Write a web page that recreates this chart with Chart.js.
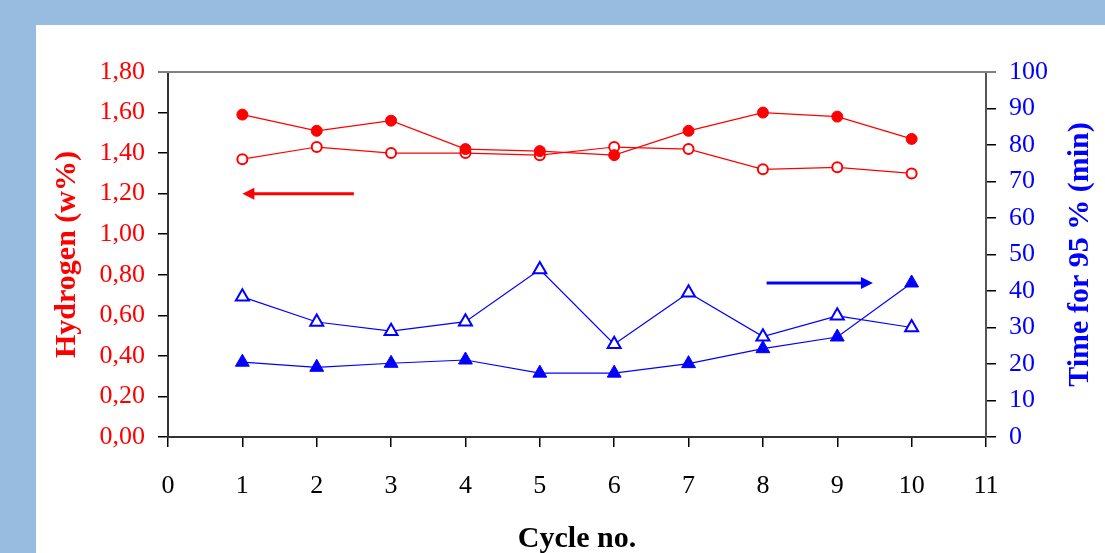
<!DOCTYPE html>
<html>
<head>
<meta charset="utf-8">
<script src="https://cdn.jsdelivr.net/npm/chart.js@4"></script>
<style>
  html, body { margin: 0; padding: 0; }
  body { width: 1105px; height: 553px; background: #98bce0; position: relative; overflow: hidden; }
  #panel { position: absolute; left: 36px; top: 25px; width: 1069px; height: 528px; background: #fff; }
  #chart { position: absolute; left: 0; top: 0; }
</style>
</head>
<body>
<div id="panel"></div>
<canvas id="chart" width="1105" height="553"></canvas>
<script>

// cycle numbers
const cycles = [1, 2, 3, 4, 5, 6, 7, 8, 9, 10];

// hydrogen content (w%), left axis
const h2Filled = [1.59, 1.51, 1.56, 1.42, 1.41, 1.39, 1.51, 1.60, 1.58, 1.47];
const h2Open   = [1.37, 1.43, 1.40, 1.40, 1.39, 1.43, 1.42, 1.32, 1.33, 1.30];

// time for 95 % (min), right axis
const timeOpen   = [38.4, 31.5, 29.0, 31.6, 45.9, 25.4, 39.5, 27.5, 33.2, 30.0];
const timeFilled = [20.5, 19.1, 20.2, 21.1, 17.5, 17.5, 20.1, 24.2, 27.4, 42.2];

// arrows: [from x, to x, y]
const arrowH2   = [2.5, 1.0, 1.20];
const arrowTime = [8.05, 9.48, 42.2];

const RED = "#ff0000";
const BLUE = "#0000ff";
const FONT = "'Liberation Serif', 'Times New Roman', serif";

function pts(ys) {
    return cycles.map((c, i) => ({ x: c, y: ys[i] }));
}

const extras = {
    id: "extras",
    afterDatasetsDraw(chart) {
        const c = chart.ctx;
        const a = chart.chartArea;
        const xs = chart.scales.x;

        // frame top line
        c.save();
        c.strokeStyle = "#808080";
        c.lineWidth = 2;
        c.beginPath();
        c.moveTo(a.left - 10, a.top);
        c.lineTo(a.right + 10, a.top);
        c.stroke();

        function arrow(spec, ys, color) {
            const x1 = xs.getPixelForValue(spec[0]);
            const x2 = xs.getPixelForValue(spec[1]);
            const y = ys.getPixelForValue(spec[2]);
            const dir = x2 > x1 ? 1 : -1;
            c.strokeStyle = color;
            c.fillStyle = color;
            c.lineWidth = 3;
            c.beginPath();
            c.moveTo(x1, y);
            c.lineTo(x2 - dir * 8, y);
            c.stroke();
            c.beginPath();
            c.moveTo(x2, y);
            c.lineTo(x2 - dir * 12, y - 6);
            c.lineTo(x2 - dir * 12, y + 6);
            c.closePath();
            c.fill();
        }
        arrow(arrowH2, chart.scales.y, RED);
        arrow(arrowTime, chart.scales.y2, BLUE);

        // right axis title, reading bottom to top
        c.translate(1080, (a.top + a.bottom) / 2);
        c.rotate(-Math.PI / 2);
        c.font = "bold 30px " + FONT;
        c.fillStyle = BLUE;
        c.textAlign = "center";
        c.textBaseline = "middle";
        c.fillText("Time for 95 % (min)", 0, 0);
        c.restore();
    }
};

const ctx = document.getElementById("chart").getContext("2d");

const chart = new Chart(ctx, {
    type: "line",
    data: {
        datasets: [{
            label: "H2 filled",
            data: pts(h2Filled),
            yAxisID: "y",
            borderColor: RED,
            borderWidth: 1.2,
            pointStyle: "circle",
            pointRadius: 5.5,
            pointBackgroundColor: RED,
            pointBorderColor: RED,
            pointBorderWidth: 1
        }, {
            label: "H2 open",
            data: pts(h2Open),
            yAxisID: "y",
            borderColor: RED,
            borderWidth: 1.2,
            pointStyle: "circle",
            pointRadius: 5,
            pointBackgroundColor: "#ffffff",
            pointBorderColor: RED,
            pointBorderWidth: 2
        }, {
            label: "Time open",
            data: pts(timeOpen),
            yAxisID: "y2",
            borderColor: BLUE,
            borderWidth: 1.2,
            pointStyle: "triangle",
            pointRadius: 7.5,
            pointBackgroundColor: "#ffffff",
            pointBorderColor: BLUE,
            pointBorderWidth: 2
        }, {
            label: "Time filled",
            data: pts(timeFilled),
            yAxisID: "y2",
            borderColor: BLUE,
            borderWidth: 1.2,
            pointStyle: "triangle",
            pointRadius: 8,
            pointBackgroundColor: BLUE,
            pointBorderColor: BLUE,
            pointBorderWidth: 1
        }]
    },
    options: {
        responsive: false,
        animation: false,
        devicePixelRatio: 1,
        layout: { padding: { top: 72, left: 0, right: 0, bottom: 0 } },
        plugins: {
            legend: { display: false },
            tooltip: { enabled: false }
        },
        elements: { line: { tension: 0 } },
        scales: {
            x: {
                type: "linear",
                min: 0,
                max: 11,
                ticks: {
                    stepSize: 1,
                    color: "#000",
                    padding: 24,
                    font: { family: FONT, size: 26 }
                },
                grid: { drawOnChartArea: false, drawTicks: true, tickLength: 10, color: "#000", lineWidth: 1.5 },
                border: { color: "#333", width: 2 },
                title: {
                    display: true,
                    text: "Cycle no.",
                    color: "#000",
                    padding: { bottom: -4 },
                    font: { family: FONT, size: 30, weight: "bold" }
                },
                afterFit(s) { s.height = 116; }
            },
            y: {
                position: "left",
                min: 0,
                max: 1.8,
                ticks: {
                    stepSize: 0.2,
                    color: RED,
                    padding: 13,
                    font: { family: FONT, size: 26 },
                    callback: v => v.toFixed(2).replace(".", ",")
                },
                grid: { drawOnChartArea: false, drawTicks: true, tickLength: 10, color: "#000", lineWidth: 1.5 },
                border: { color: "#333", width: 2 },
                title: {
                    display: true,
                    text: "Hydrogen (w%)",
                    color: RED,
                    padding: { top: 49 },
                    font: { family: FONT, size: 30, weight: "bold" }
                },
                afterFit(s) { s.width = 168; }
            },
            y2: {
                position: "right",
                min: 0,
                max: 100,
                ticks: {
                    stepSize: 10,
                    color: BLUE,
                    padding: 13,
                    font: { family: FONT, size: 26 }
                },
                grid: { drawOnChartArea: false, drawTicks: true, tickLength: 10, color: "#000", lineWidth: 1.5 },
                border: { color: "#555", width: 2 },
                afterFit(s) { s.width = 119; }
            }
        }
    },
    plugins: [extras]
});

</script>
</body>
</html>
